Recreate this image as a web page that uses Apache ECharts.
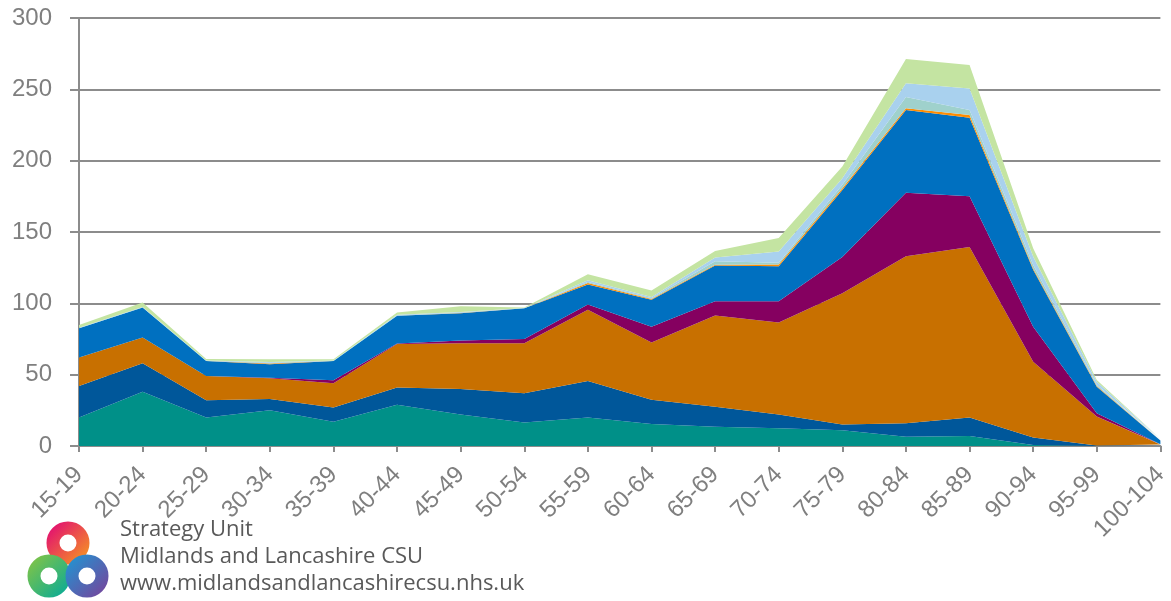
<!DOCTYPE html>
<html>
<head>
<meta charset="utf-8">
<script src="https://cdn.jsdelivr.net/npm/echarts@6/dist/echarts.min.js"></script>
<style>
  html, body { margin: 0; padding: 0; background: #fff; }
  #main { width: 1171px; height: 601px; }
</style>
</head>
<body>
<div id="main"></div>
<script>
// age bands on the x axis
var ageBands = ['15-19', '20-24', '25-29', '30-34', '35-39', '40-44', '45-49', '50-54', '55-59',
  '60-64', '65-69', '70-74', '75-79', '80-84', '85-89', '90-94', '95-99', '100-104'];

// stacked series, bottom to top
var teal      = [20, 38, 20, 25, 17, 29, 22, 16.5, 20, 15.5, 13.5, 12.5, 11, 6.5, 7, 0.7, 0, 0];
var darkBlue  = [22, 20, 12, 8, 10, 12, 18, 20.5, 25.5, 17, 14, 9.5, 4, 9.5, 13, 5.3, 0.3, 0];
var orange    = [20, 18, 17, 14.5, 17, 30.5, 32, 35, 50, 40, 64, 64.5, 92, 117, 119.5, 53, 20.3, 1];
var purple    = [0, 0, 0, 0.3, 2, 0.3, 2, 3, 3.7, 11, 10, 15, 25.5, 44.5, 35.5, 24.5, 2.3, 0.3];
var blue      = [20.5, 21, 10.5, 9.5, 13.5, 19.5, 19, 21.5, 14, 19, 25, 24.5, 47, 58, 55, 40, 18.7, 2.5];
var amber     = [0, 0, 0, 0.5, 0, 0, 0.2, 0, 1, 0.5, 0.6, 1.2, 1.2, 1.2, 2, 1, 0.4, 0.1];
var seaGreen  = [0, 0, 0.2, 0.5, 0.2, 0.2, 0.3, 0, 0.8, 0.5, 2.4, 1.2, 2.4, 8, 3.5, 2.5, 1, 0.3];
var lightBlue = [0.3, 0.5, 0.3, 0.5, 0.3, 0.5, 0.5, 0.2, 1.2, 1, 2.7, 8, 4.6, 9.5, 15, 5.8, 2, 0.5];
var paleGreen = [2, 3, 1, 2, 0.8, 1.5, 4, 0.3, 4.2, 4.5, 4.5, 9.4, 8.2, 17, 16.5, 5.8, 1.2, 0.3];

var layers = [
  { name: 'teal', data: teal, color: '#009088' },
  { name: 'darkBlue', data: darkBlue, color: '#00579a' },
  { name: 'orange', data: orange, color: '#c87000' },
  { name: 'purple', data: purple, color: '#850060' },
  { name: 'blue', data: blue, color: '#0070c0' },
  { name: 'amber', data: amber, color: '#ff8c00' },
  { name: 'seaGreen', data: seaGreen, color: '#9fd1cc' },
  { name: 'lightBlue', data: lightBlue, color: '#a9d1ee' },
  { name: 'paleGreen', data: paleGreen, color: '#c4e4a2' }
];

var axisGrey = '#8c8c8c';
var textGrey = '#7f7f7f';
var logoText = '#595959';

var chart = echarts.init(document.getElementById('main'));

// one lobe of the logo knot
function ring(cx, cy, c1, c2) {
  return {
    type: 'circle',
    shape: { cx: cx, cy: cy, r: 15 },
    style: {
      fill: 'none',
      lineWidth: 13,
      stroke: new echarts.graphic.LinearGradient(0, 0, 1, 1, [
        { offset: 0, color: c1 }, { offset: 1, color: c2 }
      ])
    }
  };
}

function logoLine(txt, top) {
  return {
    type: 'text', left: 120, top: top,
    style: { text: txt, fill: logoText, font: '22px "Open Sans", sans-serif' }
  };
}

chart.setOption({
  animation: false,
  grid: { left: 79, right: 3, top: 18, bottom: 155, containLabel: false },
  xAxis: {
    type: 'category',
    data: ageBands,
    boundaryGap: false,
    axisLine: { lineStyle: { color: axisGrey, width: 2 } },
    axisTick: { show: true, length: 6, lineStyle: { color: axisGrey, width: 2 } },
    axisLabel: {
      rotate: 45, interval: 0, margin: 25,
      color: textGrey, fontSize: 24, fontFamily: 'Liberation Sans, Arial, sans-serif'
    },
    splitLine: { show: false }
  },
  yAxis: {
    type: 'value',
    min: 0, max: 300, interval: 50,
    axisLine: { show: true, lineStyle: { color: axisGrey, width: 2 } },
    axisTick: { show: true, length: 9, lineStyle: { color: axisGrey, width: 2 } },
    axisLabel: {
      margin: 27, color: textGrey, fontSize: 24,
      fontFamily: 'Liberation Sans, Arial, sans-serif'
    },
    splitLine: { lineStyle: { color: axisGrey, width: 2 } }
  },
  series: layers.map(function (l) {
    return {
      name: l.name,
      type: 'line',
      stack: 'total',
      data: l.data,
      symbol: 'none',
      smooth: false,
      lineStyle: { width: 0 },
      areaStyle: { color: l.color, opacity: 1 },
      itemStyle: { color: l.color },
      z: 2
    };
  }),
  graphic: [
    ring(68, 543, '#e0007a', '#f7a21b'),
    ring(49, 576, '#8cc63f', '#00a99d'),
    ring(87, 576, '#1b9ad6', '#7b3f98'),
    logoLine('Strategy Unit', 519),
    logoLine('Midlands and Lancashire CSU', 546),
    logoLine('www.midlandsandlancashirecsu.nhs.uk', 573)
  ]
});
</script>
</body>
</html>
